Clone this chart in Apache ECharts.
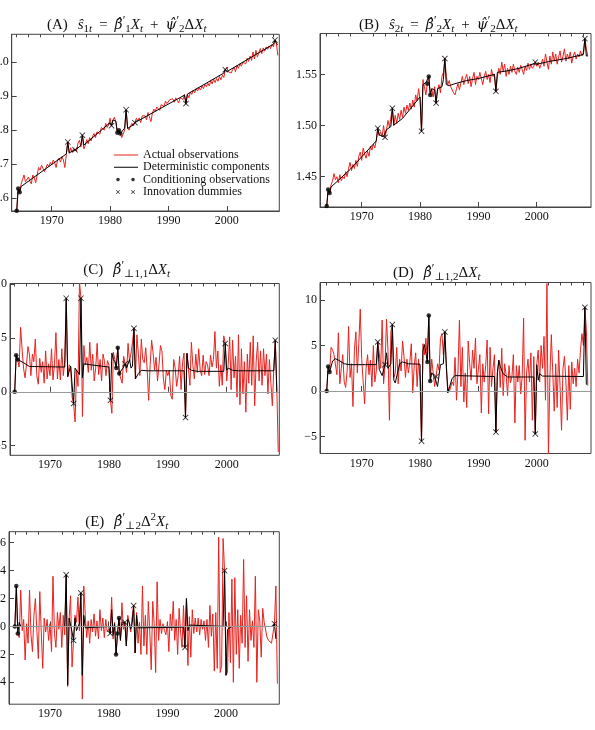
<!DOCTYPE html>
<html>
<head>
<meta charset="utf-8">
<script src="https://cdn.jsdelivr.net/npm/echarts@6/dist/echarts.min.js"></script>
<style>
  html, body { margin: 0; background: #fff; }
  #chart { width: 595px; height: 730px; }
</style>
</head>
<body>
<div id="chart"></div>
<script>
// quarterly data, 1964Q1 .. 2008Q4
const startYear = 1964;

const dummyDates = [1972.75, 1974.0, 1975.25, 1980.25, 1982.75, 1984.25, 1993.0, 1999.75, 2008.25];
const condDates = [1964.0, 1964.25, 1964.5, 1981.25, 1981.5, 1981.75];

const xLabelTicks = [1970, 1980, 1990, 2000];
const xMinorTicks = [1964, 1966, 1968, 1972, 1974, 1976, 1978, 1982, 1984, 1986, 1988,
  1992, 1994, 1996, 1998, 2002, 2004, 2006, 2008];

const yTicksA = [0.6, 0.7, 0.8, 0.9, 1.0];
const yTicksB = [1.45, 1.5, 1.55];
const yTicksC = [-5, 0, 5, 10];
const yTicksD = [-5, 0, 5, 10];
const yTicksE = [-4, -2, 0, 2, 4, 6];

// (A)
const actualA = [
  0.563, 0.628, 0.617, 0.640,  0.655, 0.668, 0.648, 0.652,  0.662, 0.650, 0.642, 0.668,
  0.660, 0.645, 0.668, 0.690,  0.682, 0.697, 0.688, 0.678,  0.688, 0.700, 0.692, 0.705,
  0.698, 0.712, 0.705, 0.690,  0.712, 0.718, 0.706, 0.722,  0.712, 0.690, 0.728, 0.765,
  0.732, 0.748, 0.735, 0.745,  0.742, 0.738, 0.762, 0.770,  0.750, 0.785, 0.745, 0.755,
  0.772, 0.760, 0.778, 0.768,  0.782, 0.790, 0.778, 0.795,  0.800, 0.788, 0.808, 0.812,
  0.800, 0.820, 0.808, 0.815,  0.835, 0.813, 0.830, 0.838,  0.822, 0.792, 0.800, 0.790,
  0.778, 0.782, 0.800, 0.860,  0.808, 0.800, 0.812, 0.820,  0.812, 0.822, 0.835, 0.828,
  0.836, 0.822, 0.842, 0.838,  0.842, 0.830, 0.852, 0.848,  0.825, 0.850, 0.862, 0.855,
  0.868, 0.872, 0.858, 0.875,  0.880, 0.870, 0.885, 0.878,  0.876, 0.890, 0.885, 0.892,
  0.882, 0.895, 0.888, 0.880,  0.895, 0.900, 0.890, 0.905,  0.878, 0.905, 0.895, 0.912,
  0.905, 0.918, 0.910, 0.922,  0.915, 0.925, 0.918, 0.930,  0.922, 0.935, 0.928, 0.938,
  0.930, 0.945, 0.936, 0.950,  0.940, 0.952, 0.944, 0.958,  0.948, 0.962, 0.955, 0.978,
  0.985, 0.972, 0.975, 0.968,  0.978, 0.985, 0.972, 0.990,  0.982, 0.995, 0.988, 1.000,
  1.005, 0.995, 1.012, 1.002,  1.018, 1.005, 1.030, 1.010,  1.035, 1.015, 1.028, 1.040,
  1.025, 1.042, 1.032, 1.045,  1.038, 1.048, 1.040, 1.052,  1.045, 1.065, 1.055, 1.020
];
const detA = [
  [1964, 0.563], [1964.25, 0.628], [1964.5, 0.617], [1964.75, 0.634], [1972.5, 0.730],
  [1972.75, 0.765], [1973.0, 0.733], [1973.75, 0.740], [1974.0, 0.742], [1974.25, 0.744],
  [1975.0, 0.755], [1975.25, 0.785], [1975.5, 0.756], [1980.0, 0.822], [1980.25, 0.813],
  [1980.5, 0.830], [1980.75, 0.835], [1981.0, 0.826], [1981.25, 0.792], [1981.5, 0.800],
  [1981.75, 0.790], [1982.0, 0.792], [1982.5, 0.806], [1982.75, 0.860], [1983.0, 0.805],
  [1984.0, 0.816], [1984.25, 0.822], [1984.5, 0.820], [1992.75, 0.903], [1993.0, 0.878],
  [1993.25, 0.906], [1999.5, 0.968], [1999.75, 0.978], [2000.0, 0.972], [2008.0, 1.053],
  [2008.25, 1.065], [2008.5, 1.055], [2008.75, 1.052]
];
const dummyA = [0.765, 0.742, 0.785, 0.813, 0.860, 0.822, 0.878, 0.978, 1.065];
const condA = [0.563, 0.628, 0.617, 0.792, 0.800, 0.790];

// (B)
const actualB = [
  1.421, 1.437, 1.434, 1.442,  1.446, 1.453, 1.447, 1.450,  1.444, 1.452, 1.446, 1.450,
  1.448, 1.455, 1.450, 1.458,  1.464, 1.456, 1.462, 1.458,  1.466, 1.460, 1.470, 1.474,
  1.466, 1.478, 1.472, 1.468,  1.475, 1.470, 1.480, 1.476,  1.482, 1.478, 1.486, 1.497,
  1.490, 1.494, 1.489, 1.500,  1.488, 1.496, 1.505, 1.498,  1.508, 1.517, 1.500, 1.510,
  1.502, 1.512, 1.506, 1.515,  1.508, 1.518, 1.512, 1.520,  1.515, 1.522, 1.516, 1.525,
  1.518, 1.530, 1.524, 1.536,  1.526, 1.494, 1.545, 1.538,  1.530, 1.541, 1.548, 1.530,
  1.536, 1.528, 1.538, 1.522,  1.535, 1.540, 1.532, 1.548,  1.552, 1.566, 1.548, 1.540,
  1.544, 1.538, 1.535, 1.532,  1.530, 1.536, 1.541, 1.535,  1.542, 1.548, 1.540, 1.546,
  1.550, 1.541, 1.548, 1.538,  1.546, 1.552, 1.540, 1.548,  1.545, 1.552, 1.546, 1.540,
  1.548, 1.553, 1.545, 1.550,  1.542, 1.555, 1.548, 1.550,  1.533, 1.548, 1.556, 1.550,
  1.562, 1.553, 1.560, 1.548,  1.556, 1.550, 1.558, 1.552,  1.560, 1.553, 1.550, 1.557,
  1.552, 1.559, 1.555, 1.550,  1.558, 1.554, 1.561, 1.555,  1.560, 1.556, 1.558, 1.562,
  1.558, 1.562, 1.556, 1.560,  1.565, 1.558, 1.570, 1.562,  1.555, 1.568, 1.560, 1.572,
  1.563, 1.570, 1.560, 1.567,  1.573, 1.562, 1.568, 1.575,  1.563, 1.570, 1.565, 1.572,
  1.561, 1.568, 1.572, 1.565,  1.570, 1.567, 1.573, 1.568,  1.572, 1.585, 1.575, 1.568
];
const detB = [
  [1964, 1.4213], [1964.25, 1.4376], [1964.5, 1.434], [1964.75, 1.440], [1966, 1.4465],
  [1968, 1.457], [1970, 1.4695], [1972.5, 1.485], [1972.75, 1.4975], [1973.0, 1.491],
  [1973.75, 1.489], [1974.0, 1.4885], [1974.25, 1.496], [1975.0, 1.499], [1975.25, 1.517],
  [1975.5, 1.5005], [1977, 1.507], [1979, 1.521], [1980.0, 1.528], [1980.25, 1.4945],
  [1980.5, 1.540], [1981.0, 1.542], [1981.25, 1.541], [1981.5, 1.548], [1981.75, 1.530],
  [1982.0, 1.536], [1982.5, 1.535], [1982.75, 1.522], [1983.0, 1.536], [1983.75, 1.538],
  [1984.0, 1.545], [1984.25, 1.5655], [1984.5, 1.540], [1985, 1.539], [1986, 1.541],
  [1988, 1.544], [1990, 1.546], [1992.75, 1.550], [1993.0, 1.5335], [1993.25, 1.552],
  [1995, 1.5535], [1997, 1.556], [1999.5, 1.5605], [1999.75, 1.562], [2000, 1.560],
  [2002, 1.5625], [2005, 1.5655], [2008, 1.5695], [2008.25, 1.585], [2008.5, 1.568],
  [2008.75, 1.568]
];
const dummyB = [1.4975, 1.4885, 1.517, 1.4945, 1.522, 1.5655, 1.5335, 1.562, 1.585];
const condB = [1.4213, 1.4376, 1.434, 1.541, 1.548, 1.530];

// (C)
const actualC = [
  0.0, 3.4, 3.0, 2.3,  6.0, 4.0, 2.2, 1.3,  2.5, 4.2, 3.5, 1.5,  3.5, 2.8, 4.9, 1.5,
  0.7, 3.1, 1.8, 2.8,  0.8, 3.8, 1.2, 2.6,  1.5, 4.0, 1.1, 2.5,  5.5, 1.2, 3.0, 1.1,
  4.0, 1.5, 2.9, 8.7,  1.4, 2.5, 2.3, -0.5,  -1.1, -2.8, 2.0, 0.5,  10.2, 8.7, -2.3, 4.3,
  2.5, 3.2, 1.8, 4.6,  2.0, 3.5, 1.0, 2.2,  4.5, 1.6, 3.0, 1.0,  3.5, 2.8, 1.5, 2.9,
  2.5, -0.8, -2.0, 3.7,  3.0, 2.2, 4.1, 1.7,  1.7, 0.8, 3.3, 2.6,  1.8, 4.5, 2.8, 3.6,
  4.6, 5.9, 1.2, 5.3,  3.5, 1.5, 4.9, 3.0,  2.7, 4.1, 2.0, -0.8,  2.5, 4.8, 3.6, 2.0,
  3.2, 1.0, 2.5, 4.3,  3.8, 1.2, 0.2, 2.0,  1.5, 2.0, -0.3, -0.7,  3.0, 2.2, 0.5, 1.5,
  3.3, 0.2, 2.7, 3.6,  -2.4, 3.5, 2.2, 0.6,  4.6, 2.5, 1.2, 3.5,  1.8, 4.0, 2.0, 1.5,
  3.4, 1.6, 2.8, 2.5,  1.5, 3.4, 2.3, 3.0,  5.6, 2.2, 3.8, 0.5,  2.5, 0.6, 5.2, 4.5,
  1.0, 2.5, 5.1, 0.2,  4.8, 1.3, 3.3, -0.5,  5.3, -1.2, 4.0, -0.2,  2.8, -1.9, 3.5, 0.8,
  4.6, 0.6, 5.2, -1.3,  2.8, 4.6, 1.0, 3.8,  0.6, 4.0, 1.5, 3.5,  -0.2, 3.0, 0.8, -1.3,
  2.3, 4.8, 0.5, -5.6
];
const detC = [
  [1964, 0], [1964.25, 3.4], [1964.5, 3.0], [1964.75, 3.0], [1965.5, 2.7], [1966.5, 2.35],
  [1972.5, 2.3], [1972.75, 8.7], [1973.0, 1.4], [1973.5, 2.4], [1973.75, 2.3], [1974.0, -1.1],
  [1974.25, 2.2], [1975.0, 1.6], [1975.25, 8.7], [1975.5, 1.3], [1975.75, 2.6], [1977, 2.5],
  [1980.0, 2.3], [1980.25, -0.8], [1980.5, 3.6], [1980.75, 3.0], [1981.0, 2.8], [1981.25, 2.2],
  [1981.5, 4.1], [1981.75, 1.7], [1982.0, 1.7], [1982.5, 2.3], [1982.75, 2.6], [1983.0, 2.2],
  [1983.5, 3.0], [1983.75, 2.2], [1984.0, 2.4], [1984.25, 5.9], [1984.5, 1.2], [1985.0, 1.7],
  [1985.5, 2.0], [1986.5, 1.95], [1992.75, 1.95], [1993.0, -2.4], [1993.25, 3.6], [1993.5, 2.2],
  [1994.0, 2.0], [1995.0, 1.9], [1999.5, 1.9], [1999.75, 4.5], [2000.0, 2.0], [2000.25, 2.2],
  [2001.0, 2.0], [2002.0, 1.95], [2008.0, 1.95], [2008.25, 4.8], [2008.5, 0]
];
const dummyC = [8.7, -1.1, 8.7, -0.8, 2.6, 5.9, -2.4, 4.5, 4.8];
const condC = [0, 3.4, 3.0, 2.2, 4.1, 1.7];

// (D)
const actualD = [
  0.0, 2.7, 2.1, 4.8,  4.5, 4.0, 3.8, 1.8,  6.4, 0.8, 2.5, 4.0,  1.0, 0.4, 2.2, 7.1,
  1.5, 3.0, -1.7, 4.6,  6.5, 2.0, 5.2, 9.0,  3.5, 1.0, -1.4, 2.5,  4.0, 1.8, 3.4, 0.5,
  5.0, 1.0, 2.2, 5.4,  4.2, 2.5, 7.8, 0.8,  2.9, 7.9, 4.5, -3.2,  6.5, 7.3, 1.5, 2.0,
  4.8, 0.8, 3.5, 2.2,  5.5, 3.8, 1.5, 3.5,  2.0, 3.2, 5.2, -0.2,  2.8, 4.2, 0.5, 3.5,
  1.0, -5.5, 5.2, 4.0,  5.8, 3.2, 8.3, 1.1,  3.5, 2.0, 0.5, 1.6,  3.0, 2.3, 5.8, 6.3,
  4.0, 6.5, 2.5, 0.5,  -0.1, -0.3, 1.0, 0.6,  3.7, -1.0, 2.2, 7.8,  0.5, 4.8, -1.2, 2.0,
  -1.8, 5.5, 3.0, 1.2,  4.5, 2.5, 5.8, 0.8,  2.4, 4.0, -2.4, 3.0,  1.0, 2.8, 5.6, -2.5,
  4.8, 0.5, 2.5, 4.0,  -4.5, 2.0, 3.4, 0.4,  4.7, -0.5, 3.0, 1.8,  -0.5, 2.8, 0.9, 1.6,
  4.0, -3.5, 2.8, 1.0,  2.8, -0.3, 1.5, 8.0,  -5.4, 2.0, 3.5, 1.0,  4.2, -3.2, 3.8, -4.7,
  2.9, 4.5, 1.0, 5.0,  2.5, 6.0, -1.0, 11.8,  -7.2, 1.5, 6.2, 2.0,  -2.2, 3.0, -1.8, 4.5,
  0.5, -4.3, 2.5, 3.8,  1.0, -3.2, 2.8, -2.0,  3.2, 0.8, 2.5, 0.5,  3.5, 2.0, 4.5, 6.3,
  5.0, 9.2, 6.8, 0.6
];
const detD = [
  [1964, 0], [1964.25, 2.7], [1964.5, 2.1], [1964.75, 2.2], [1965.0, 3.3], [1965.5, 3.55],
  [1966.0, 3.4], [1967.0, 3.0], [1968.0, 2.9], [1972.5, 2.9], [1972.75, 5.4], [1973.0, 2.4],
  [1973.5, 1.7], [1974.0, 2.9], [1974.25, 4.2], [1974.5, 2.5], [1975.0, 3.0], [1975.25, 7.3],
  [1975.5, 1.2], [1975.75, 0.9], [1976.5, 3.0], [1977.0, 3.2], [1978.0, 3.0], [1980.0, 2.95],
  [1980.25, -5.5], [1980.5, 4.5], [1980.75, 5.1], [1981.25, 3.2], [1981.5, 8.3], [1981.75, 1.1],
  [1982.0, 2.0], [1982.5, 1.6], [1982.75, 1.6], [1983.0, 0.5], [1983.5, 2.9], [1984.0, 3.0],
  [1984.25, 6.5], [1984.5, 3.0], [1984.75, -0.2], [1985.0, 0.0], [1985.5, 1.4], [1986.0, 1.7],
  [1992.75, 1.6], [1993.0, -4.5], [1993.25, 2.0], [1993.5, 3.4], [1993.75, 2.7], [1994.25, 1.9],
  [1995.0, 1.55], [1999.5, 1.55], [1999.75, -4.7], [2000.0, 2.9], [2000.25, 1.2], [2000.5, 1.9],
  [2001.0, 1.65], [2008.0, 1.6], [2008.25, 9.2], [2008.5, 0.7]
];
const dummyD = [5.4, 2.9, 7.3, -5.5, 1.6, 6.5, -4.5, -4.7, 9.2];
const condD = [0, 2.7, 2.1, 3.2, 8.3, 1.1];

// (E)
const actualE = [
  0.0, 2.9, -0.5, -0.8,  2.6, -0.3, 0.5, -2.4,  0.2, -1.2, 2.6, -0.6,  -1.8, 0.8, 2.0, -0.3,
  -2.3, 2.5, -0.4, -3.0,  0.6, -0.4, 0.5, -1.0,  0.2, -1.8, 3.6, -0.5,  -1.5, 1.0, -0.2, 1.0,
  -1.5, 0.8, -0.6, 3.7,  -4.3, 0.6, 2.2, -2.9,  -1.0, 0.8, 0.3, 2.1,  -0.3, 2.4, -5.2, 2.9,
  0.8, -0.8, 0.4, -1.2,  0.5, -0.4, 0.9, -0.7,  0.4, -0.9, 1.2, -0.3,  0.6, -0.8, 0.5, -0.4,
  -0.2, -0.5, 2.1, -0.9,  0.3, -2.0, -0.5, 0.6,  -1.0, 1.7, -0.2, 0.3,  -1.4, 0.8, 0.2, -0.4,
  0.7, 1.5, -1.9, 1.0,  -1.2, 0.3, -2.0, 2.9,  -1.4, 0.8, -2.0, 1.8,  -0.4, -3.1, 1.8, 0.2,
  -3.3, 3.2, -1.0, 0.5,  -0.5, 0.2, -0.3, -0.6,  0.3, -1.8, 0.9, -0.3,  1.8, -1.0, 0.5, -2.0,
  1.3, -0.4, -1.5, 1.5,  -1.5, 2.0, -2.8, 0.7,  -2.2, 1.2, -0.5, 0.6,  -0.4, 0.6, -0.6, 0.5,
  -0.2, 0.4, -1.0, 0.5,  -1.5, 1.5, -0.7, 0.9,  -3.2, 1.0, -3.0, 6.4,  -3.3, -2.8, 6.3, 4.0,
  -3.5, -3.3, 1.0, -2.6,  3.4, -4.0, 3.5, -2.0,  1.2, -3.0, 0.8, -1.2,  4.8, -1.5, 2.2, -2.5,
  1.2, -1.0, 0.4, -1.5,  3.6, -4.0, 1.2, 0.4,  -2.2, 1.3, 0.3, 0.3,  -0.8, -1.0, -1.1, -1.2,
  -1.3, 0.2, 2.9, -4.1
];
const detE = [
  [1964, 0], [1964.25, 2.9], [1964.5, -0.5], [1964.75, 0.3], [1965.0, 0], [1972.5, 0],
  [1972.75, 3.7], [1973.0, -4.2], [1973.25, 0.6], [1973.5, 0.5], [1973.75, -0.4], [1974.0, -1.0],
  [1974.25, 0.6], [1974.5, -0.3], [1975.0, 0.2], [1975.25, 2.4], [1975.5, -3.5], [1975.75, 0.8],
  [1976.0, -0.1], [1980.0, 0], [1980.25, -0.5], [1980.5, 1.2], [1980.75, -0.6], [1981.0, 0.2],
  [1981.25, -2.0], [1981.5, -0.5], [1981.75, 0.6], [1982.0, -1.0], [1982.25, 0.3], [1982.5, 0.2],
  [1982.75, 0.3], [1983.0, -1.4], [1983.25, 0.5], [1983.5, 0.3], [1983.75, -0.2], [1984.0, 0.2],
  [1984.25, 1.5], [1984.5, -1.9], [1984.75, 0.8], [1985.0, -0.1], [1992.75, -0.05], [1993.0, -1.5],
  [1993.25, 2.0], [1993.5, -0.3], [1993.75, 0.1], [1994.0, 0], [1999.5, 0], [1999.75, 4.0],
  [2000.0, -3.5], [2000.25, -0.2], [2000.5, -0.1], [2001.0, 0], [2008.0, 0], [2008.25, 0.2],
  [2008.5, -0.9]
];
const dummyE = [3.7, -1.0, 2.4, -0.5, 0.3, 1.5, -1.5, 4.0, 0.2];
const condE = [0, 2.9, -0.5, -2.0, -0.5, 0.6];

const serif = "'Liberation Serif', 'DejaVu Serif', serif";
const red = "#e8231f";
const ink = "#111";
const frame = "#444";
const crossPath = "path://M0,1L1,0L5,4L9,0L10,1L6,5L10,9L9,10L5,6L1,10L0,9L4,5Z";

const toSeries = (vals) => vals.map((v, i) => [startYear + i / 4, v]);
const atDates = (dates, vals) => dates.map((d, i) => [d, vals[i]]);
const fmt = (digits) => (v) => (v < 0 ? "\u2212" : "") + Math.abs(v).toFixed(digits);

const panels = [
  { rect: { left: 11.7, top: 34.3, width: 267.6, height: 176.7 }, xr: [1963.14, 2009.0], yr: [0.562, 1.082],
    yTicks: yTicksA, digits: 1, actual: actualA, det: detA, dummy: dummyA, cond: condA, zero: false,
    title: "{lab|(A)}{i|ŝ}{sn|1}{s|t}{op|=}{g|β\u0302}{p|′}{sn|1}{i|X}{s|t}{op|+}{g|ψ\u0302}{p|′}{sn|2}{n|Δ}{i|X}{s|t}",
    tpos: [126.7, 25] },
  { rect: { left: 320, top: 33.5, width: 271, height: 173.5 }, xr: [1962.85, 2009.3], yr: [1.4204, 1.59],
    yTicks: yTicksB, digits: 2, actual: actualB, det: detB, dummy: dummyB, cond: condB, zero: false,
    title: "{lab|(B)}{i|ŝ}{sn|2}{s|t}{op|=}{g|β\u0302}{p|′}{sn|2}{i|X}{s|t}{op|+}{g|ψ\u0302}{p|′}{sn|2}{n|Δ}{i|X}{s|t}",
    tpos: [438.3, 25] },
  { rect: { left: 10, top: 283.5, width: 269.3, height: 171.8 }, xr: [1963.2, 2008.93], yr: [-5.91, 10.07],
    yTicks: yTicksC, digits: 0, actual: actualC, det: detC, dummy: dummyC, cond: condC, zero: true,
    title: "{lab|(C)}{g|β\u0302}{p|′}{sn|⊥1,1}{n|Δ}{i|X}{s|t}", tpos: [126.7, 270] },
  { rect: { left: 320, top: 282.5, width: 271, height: 171 }, xr: [1962.85, 2009.3], yr: [-6.85, 11.92],
    yTicks: yTicksD, digits: 0, actual: actualD, det: detD, dummy: dummyD, cond: condD, zero: true,
    title: "{lab|(D)}{g|β\u0302}{p|′}{sn|⊥1,2}{n|Δ}{i|X}{s|t}", tpos: [436.7, 273] },
  { rect: { left: 9, top: 531.7, width: 270.3, height: 172.5 }, xr: [1963.0, 2009.08], yr: [-5.57, 6.79],
    yTicks: yTicksE, digits: 0, actual: actualE, det: detE, dummy: dummyE, cond: condE, zero: true,
    title: "{lab|(E)}{g|β\u0302}{p|′}{sn|⊥2}{n|Δ}{sup|2}{i|X}{s|t}", tpos: [126.7, 522] }
];

const richTitle = {
  lab: { fontFamily: serif, fontSize: 15, fill: ink, padding: [0, 10, 0, 0] },
  op: { fontFamily: serif, fontSize: 15, fill: ink, padding: [0, 7, 0, 7] },
  n: { fontFamily: serif, fontSize: 15, fill: ink },
  i: { fontFamily: serif, fontSize: 15, fontStyle: "italic", fill: ink },
  g: { fontFamily: "'DejaVu Serif', serif", fontSize: 14, fontStyle: "italic", fill: ink },
  s: { fontFamily: serif, fontSize: 11, fontStyle: "italic", fill: ink, padding: [9, 0, 0, 0] },
  sn: { fontFamily: serif, fontSize: 11, fill: ink, padding: [9, 0, 0, 0] },
  p: { fontFamily: serif, fontSize: 12, fill: ink, padding: [0, 0, 9, 0] },
  sup: { fontFamily: serif, fontSize: 11, fill: ink, padding: [0, 0, 10, 0] }
};

const grid = [], xAxis = [], yAxis = [], series = [], graphic = [];

panels.forEach((p, k) => {
  grid.push(Object.assign({
    show: true, borderColor: frame, borderWidth: 1, backgroundColor: "transparent",
    containLabel: false, outerBoundsMode: "none"
  }, p.rect));
  xAxis.push({
    type: "value", gridIndex: k, min: p.xr[0], max: p.xr[1],
    axisLine: { lineStyle: { color: frame, width: 1 } },
    axisTick: { inside: true, length: 5, customValues: xLabelTicks, lineStyle: { color: frame } },
    axisLabel: { customValues: xLabelTicks, formatter: (v) => String(v), fontFamily: serif, fontSize: 12, color: ink, margin: 4 },
    splitLine: { show: false }
  });
  xAxis.push({
    type: "value", gridIndex: k, min: p.xr[0], max: p.xr[1],
    axisLine: { show: false },
    axisTick: { inside: true, length: 3, customValues: xMinorTicks, lineStyle: { color: frame } },
    axisLabel: { show: false },
    splitLine: { show: false }
  });
  yAxis.push({
    type: "value", gridIndex: k, min: p.yr[0], max: p.yr[1],
    axisLine: { show: true, lineStyle: { color: frame, width: 1 } },
    axisTick: { inside: true, length: 5, customValues: p.yTicks, lineStyle: { color: frame } },
    axisLabel: { customValues: p.yTicks, formatter: fmt(p.digits), fontFamily: serif, fontSize: 12, color: ink, margin: 3 },
    splitLine: { show: false }
  });
  const xi = 2 * k;
  if (p.zero) {
    series.push({
      type: "line", xAxisIndex: xi, yAxisIndex: k, data: [], z: 1, silent: true,
      markLine: { silent: true, symbol: "none", label: { show: false },
        lineStyle: { color: "#9a9a9a", width: 1, type: "solid" }, data: [{ yAxis: 0 }] }
    });
  }
  series.push({
    name: "Actual observations", type: "line", xAxisIndex: xi, yAxisIndex: k,
    data: toSeries(p.actual), symbol: "none", color: red,
    lineStyle: { color: red, width: 1 }, z: 2
  });
  series.push({
    name: "Deterministic components", type: "line", xAxisIndex: xi, yAxisIndex: k,
    data: p.det, symbol: "none", color: "#000",
    lineStyle: { color: "#000", width: 1 }, z: 3
  });
  series.push({
    name: "Conditioning observations", type: "scatter", xAxisIndex: xi, yAxisIndex: k,
    data: atDates(condDates, p.cond), symbol: "circle", symbolSize: 4.5, color: "#000", z: 4
  });
  series.push({
    name: "Innovation dummies", type: "scatter", xAxisIndex: xi, yAxisIndex: k,
    data: atDates(dummyDates, p.dummy), symbol: crossPath, symbolSize: 6, color: "#000", z: 4
  });
  graphic.push({
    type: "text", x: p.tpos[0], y: p.tpos[1],
    style: { text: p.title, rich: richTitle, align: "center", verticalAlign: "middle", fill: ink, fontFamily: serif, fontSize: 15 }
  });
});

const pad = " M0,0h0.01v0.01h-0.01z M24,8h-0.01v-0.01h0.01z";
const oneLine = "path://M0,3.5h24v1h-24z" + pad;
const twoDots = "path://M2.2,4a1.8,1.8 0 1,0 3.6,0a1.8,1.8 0 1,0 -3.6,0z M17.2,4a1.8,1.8 0 1,0 3.6,0a1.8,1.8 0 1,0 -3.6,0z" + pad;
const twoCrosses = "path://M2,2.5L2.5,2L4,3.5L5.5,2L6,2.5L4.5,4L6,5.5L5.5,6L4,4.5L2.5,6L2,5.5L3.5,4Z" +
  " M17,2.5L17.5,2L19,3.5L20.5,2L21,2.5L19.5,4L21,5.5L20.5,6L19,4.5L17.5,6L17,5.5L18.5,4Z" + pad;

const chart = echarts.init(document.getElementById("chart"), null, { renderer: "canvas" });
chart.setOption({
  animation: false,
  backgroundColor: "#fff",
  grid, xAxis, yAxis, series, graphic,
  legend: {
    orient: "vertical", left: 114, top: 149, padding: 0, itemWidth: 24, itemHeight: 8, itemGap: 0.3,
    selectedMode: false,
    textStyle: { fontFamily: serif, fontSize: 12, lineHeight: 12, color: ink },
    data: [
      { name: "Actual observations", icon: oneLine },
      { name: "Deterministic components", icon: oneLine },
      { name: "Conditioning observations", icon: twoDots },
      { name: "Innovation dummies", icon: twoCrosses }
    ]
  }
});
</script>
</body>
</html>
